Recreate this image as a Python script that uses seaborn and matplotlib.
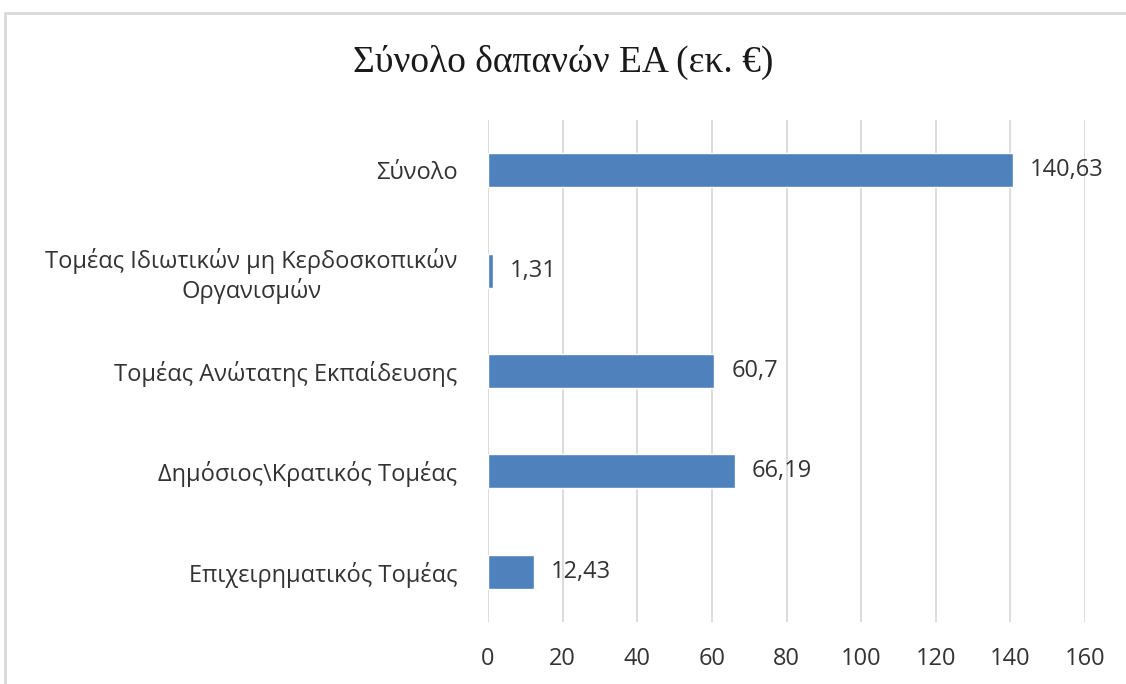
import matplotlib
matplotlib.use("Agg")
import matplotlib.pyplot as plt
import seaborn as sns
import pandas as pd
from matplotlib.patches import Rectangle

# δεδομένα
tomeis = ["Σύνολο",
          "Τομέας Ιδιωτικών μη Κερδοσκοπικών\nΟργανισμών",
          "Τομέας Ανώτατης Εκπαίδευσης",
          "Δημόσιος\\Κρατικός Τομέας",
          "Επιχειρηματικός Τομέας"]
dapanes = [140.63, 1.31, 60.7, 66.19, 12.43]
etiketes = ["140,63", "1,31", "60,7", "66,19", "12,43"]
xticks = [0, 20, 40, 60, 80, 100, 120, 140, 160]

df = pd.DataFrame({"tomeas": tomeis, "dapani": dapanes})

sns.set_style("white")
plt.rcParams["font.family"] = ["Open Sans", "DejaVu Sans"]

fig = plt.figure(figsize=(11.26, 6.84), dpi=100)
ax = fig.add_axes([488 / 1126, 1 - 622 / 684, (1085 - 488) / 1126, (622 - 120) / 684])

sns.barplot(data=df, x="dapani", y="tomeas", orient="h", color="#4F81BD",
            saturation=1, width=0.34, ax=ax)

ax.set_xlim(0, 160)
ax.set_ylim(4.5, -0.5)
ax.set_xticks(xticks)
ax.set_xticklabels([str(t) for t in xticks], fontsize=17, color="#333333")
ax.tick_params(axis="y", labelsize=17, labelcolor="#333333", length=0, pad=22)
ax.tick_params(axis="x", length=0, pad=18)
for lab in ax.get_yticklabels():
    lab.set_horizontalalignment("right")
    lab.set_multialignment("center")
ax.set_xlabel("")
ax.set_ylabel("")
ax.grid(axis="x", color="#D9D9D9", linewidth=1.3)
ax.set_axisbelow(True)
for s in ax.spines.values():
    s.set_visible(False)

for i, (v, t) in enumerate(zip(dapanes, etiketes)):
    ax.text(v + 4.5, i, t, va="center", ha="left", fontsize=17, color="#333333")

fig.text(0.5, 1 - 62 / 684, "Σύνολο δαπανών ΕΑ (εκ. €)", ha="center", va="center",
         fontsize=27, family=["Liberation Serif", "DejaVu Serif"], color="#1a1a1a")

# πλαίσιο γραφήματος
fig.patches.append(Rectangle((5 / 1126, -0.05), 1.1, 1.05 - 13 / 684,
                             transform=fig.transFigure, fill=False,
                             edgecolor="#D9D9D9", linewidth=2))

fig.savefig("out.png", dpi=100, facecolor="white")
